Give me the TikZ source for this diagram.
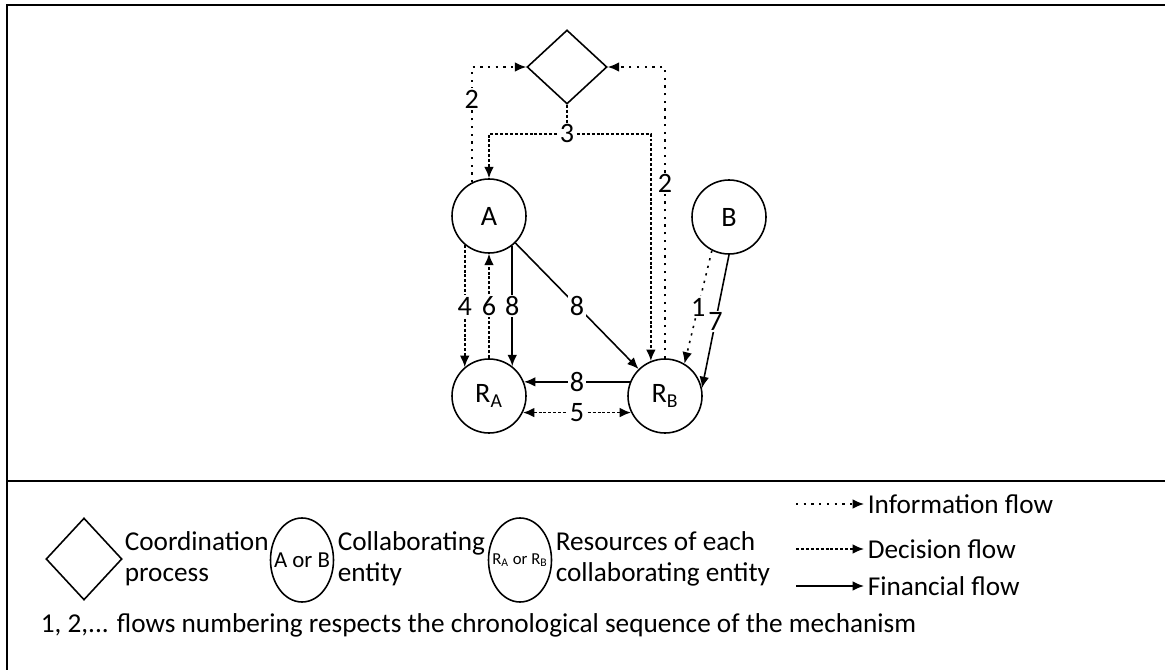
\documentclass[tikz,border=0pt]{standalone}
\usepackage{fontspec}
\setmainfont{Carlito}
\usetikzlibrary{arrows.meta,shapes.geometric}

\begin{document}
\begin{tikzpicture}[>={Latex[length=6.5pt,width=5.5pt]},line width=0.9pt,
  ent/.style={draw,circle,minimum size=1.48cm,inner sep=0pt,font=\fontsize{16}{18}\selectfont},
  coord/.style={draw,diamond,minimum width=1.6cm,minimum height=1.48cm,inner sep=0pt},
  legent/.style={draw,ellipse,minimum width=1.26cm,minimum height=1.68cm,inner xsep=-5pt,inner ysep=0pt},
  info/.style={dash pattern=on 1.3pt off 3.1pt},
  decision/.style={dash pattern=on 1.7pt off 1.1pt},
  lbl/.style={fill=white,inner sep=1pt,font=\fontsize{16}{18}\selectfont},
  legtxt/.style={font=\fontsize{15.5}{17.5}\selectfont,align=left,inner sep=0pt}]
\useasboundingbox (0,0) rectangle (23.3,-13.4);
% frame
\draw[line width=1.3pt] (23.3,-0.1) -- (0.14,-0.1) -- (0.14,-13.4);
\draw[line width=1.3pt] (0.14,-9.62) -- (23.3,-9.62);

% mechanism
\node[coord] (cp) at (11.34,-1.34) {};
\node[ent] (A) at (9.78,-4.32) {A};
\node[ent] (B) at (14.58,-4.34) {B};
\node[ent] (RA) at (9.78,-7.92) {R\textsubscript{A}};
\node[ent] (RB) at (13.3,-7.92) {R\textsubscript{B}};

\draw[info,->] (A.117) |- node[lbl,pos=0.36] {2} (cp.west);
\draw[info,->] (RB.north) |- node[lbl,pos=0.3] {2} (cp.east);
\coordinate (j3) at ([yshift=-0.58cm]cp.south);
\draw[decision] (cp.south) -- (j3);
\draw[decision,->] (j3) -| (A.north);
\draw[decision,->] (j3) -| (RB.112);
\node[lbl] (n3) at (j3) {3};

\draw[decision,->] (A.230) -- node[lbl] {4} (RA.130);
\draw[decision,->] (RA.north) -- node[lbl] {6} (A.south);
\draw[->] (A.-52) -- node[lbl] {8} (RA.52);
\draw[->] (A) -- node[lbl] {8} (RB);
\draw[info,->] (B.243) -- node[lbl] {1} (RB.59);
\draw[->] (B.south) -- node[lbl] {7} (RB.12);
\draw[->] (RB.158) -- node[lbl] {8} (RA.22);
\draw[decision,<->] (RA.-26) -- node[lbl] {5} (RB.206);

% legend
\node[coord,minimum width=1.52cm,minimum height=1.64cm] (lcp) at (1.68,-11.18) {};
\node[legtxt,anchor=west] (lcpt) at (2.48,-11.18) {Coordination\\process};
\node[legent,font=\fontsize{13}{15}\selectfont] (lent) at (6.04,-11.2) {A or B};
\node[legtxt,anchor=west] (lentt) at (6.74,-11.18) {Collaborating\\entity};
\node[legent,font=\fontsize{9.5}{11}\selectfont] (lres) at (10.4,-11.2) {R\textsubscript{A} or R\textsubscript{B}};
\node[legtxt,anchor=west] (lrest) at (11.1,-11.18) {Resources of each\\collaborating entity};

\node[legtxt,anchor=west] (linfo) at (17.34,-10.08) {Information flow};
\node[legtxt,anchor=west] (ldec) at (17.34,-10.98) {Decision flow};
\node[legtxt,anchor=west] (lfin) at (17.34,-11.72) {Financial flow};
\draw[info,->] ([xshift=-1.42cm]linfo.west) -- ([xshift=-0.06cm]linfo.west);
\draw[decision,->] ([xshift=-1.42cm]ldec.west) -- ([xshift=-0.06cm]ldec.west);
\draw[->] ([xshift=-1.42cm]lfin.west) -- ([xshift=-0.06cm]lfin.west);

\node[legtxt,anchor=west] (note) at (0.8,-12.5) {1, 2,... flows numbering respects the chronological sequence of the mechanism};
\end{tikzpicture}
\end{document}
